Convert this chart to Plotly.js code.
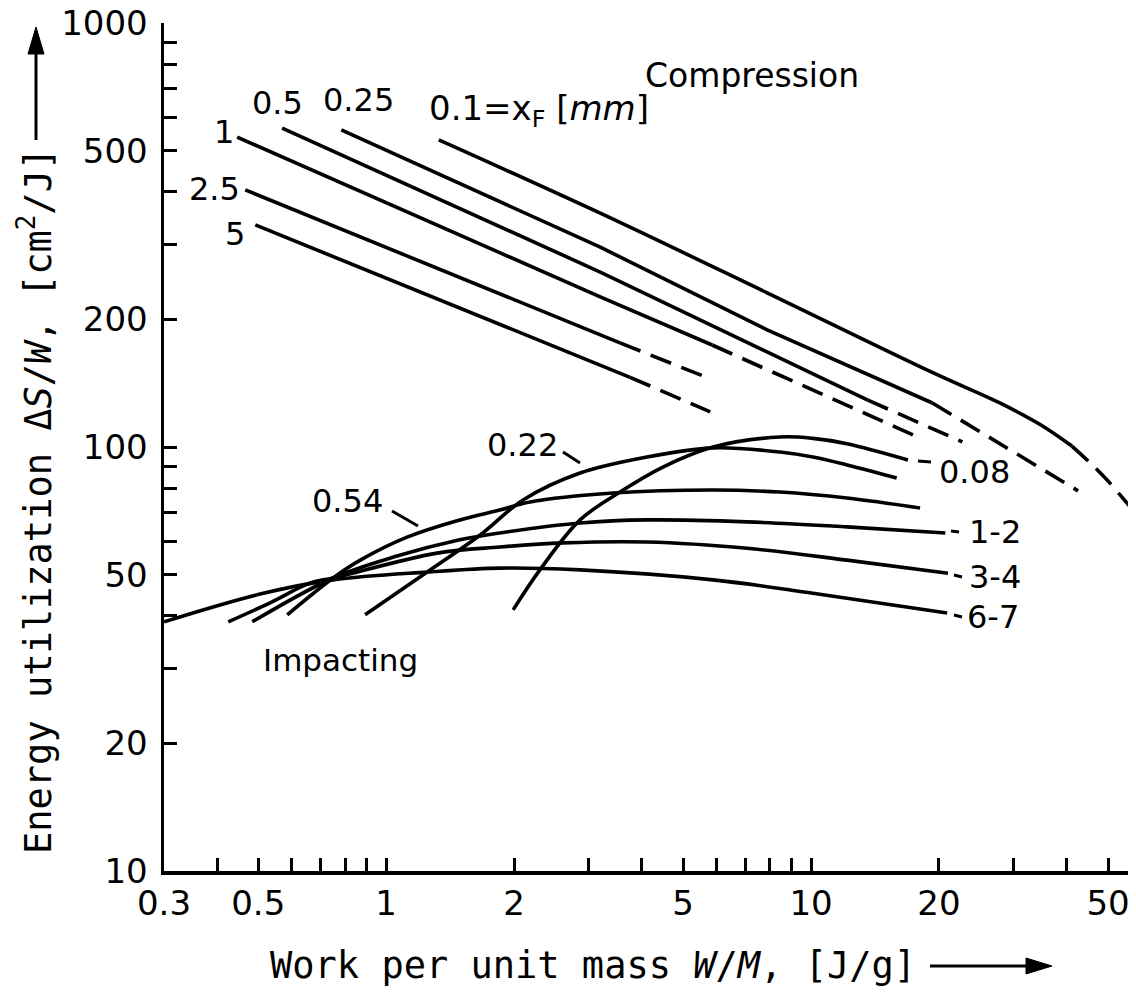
<!DOCTYPE html>
<html><head><meta charset="utf-8">
<script src="https://cdn.plot.ly/plotly-3.0.1.min.js"></script>
<style>html,body{margin:0;padding:0;background:#fff}</style>
</head><body>
<div id="chart" style="width:1136px;height:995px"></div>
<script>
// ---------- axis ticks ----------
const xTickVals = [0.3,0.4,0.5,0.6,0.7,0.8,0.9,1,2,3,4,5,6,7,8,9,10,20,30,40,50];
const xTickText = ['0.3','','0.5','','','','','1','2','','','5','','','','','10','20','','','50'];
const yTickVals = [10,20,30,40,50,60,70,80,90,100,200,300,400,500,600,700,800,900,1000];
const yTickText = ['10','20','','','50','','','','','100','200','','','500','','','','','1000'];

// ---------- Compression (feed size x_F in mm): solid part, dashed extrapolation ----------
const comp01_x  = [1.33, 3.19, 7.88, 19.4, 27.8, 34.6, 41.1];
const comp01_y  = [530, 356, 231, 149.5, 127, 113, 100.5];
const comp01d_x = [41.1, 45.5, 50.5, 57.2];
const comp01d_y = [100.5, 91.5, 82.2, 71];

const comp025_x  = [0.784, 3.19, 7.88, 19.3];
const comp025_y  = [560, 296, 189, 127];
const comp025d_x = [19.3, 28.9, 42.5];
const comp025d_y = [127, 99.5, 78.8];

const comp05_x  = [0.569, 3.19, 13.6];
const comp05_y  = [565, 258.6, 129];
const comp05d_x = [13.6, 22.7];
const comp05d_y = [129, 102.8];

const comp1_x  = [0.446, 3.19, 5.85];
const comp1_y  = [538, 226, 174];
const comp1d_x = [5.85, 17.8];
const comp1d_y = [174, 105.6];

const comp25_x  = [0.466, 3.55];
const comp25_y  = [404, 176];
const comp25d_x = [3.55, 5.72];
const comp25d_y = [176, 145.5];

const comp5_x  = [0.492, 3.75];
const comp5_y  = [334, 146];
const comp5d_x = [3.75, 5.79];
const comp5d_y = [146, 121];

// ---------- Impacting (feed size in mm) ----------
const imp67_x = [0.3, 0.505, 0.75, 1.25, 1.85, 2.86, 5.88, 10.1, 20.9];
const imp67_y = [38.7, 45.0, 48.6, 50.7, 51.8, 51.3, 48.6, 45.2, 40.6];

const imp34_x = [0.425, 0.533, 0.663, 0.75, 1.318, 1.85, 2.61, 4.11, 7.07, 12.15, 21.0];
const imp34_y = [38.7, 42.9, 47.8, 49.1, 56.2, 58.1, 59.4, 59.7, 57.7, 54.1, 50.4];

const imp12_x = [0.484, 0.75, 1.04, 1.49, 1.85, 2.86, 4.11, 7.07, 12.15, 20.7];
const imp12_y = [38.7, 49.1, 55.0, 60.4, 62.7, 66.2, 67.3, 66.6, 64.8, 62.7];

const imp054_x = [0.585, 0.75, 0.869, 1.12, 1.49, 1.85, 2.18, 3.42, 5.88, 8.45, 12.15, 18.05];
const imp054_y = [40.2, 49.1, 54.1, 61.3, 67.3, 71.0, 74.2, 77.9, 79.2, 78.3, 75.8, 71.8];

const imp022_x = [0.892, 1.249, 1.664, 2.10, 2.86, 4.11, 5.88, 8.45, 10.1, 12.15, 15.9];
const imp022_y = [40.2, 50.7, 62.0, 75.0, 86.8, 94.7, 99.5, 97.3, 94.7, 90.7, 84.5];

const imp008_x = [1.99, 2.30, 2.86, 3.55, 4.48, 5.88, 8.45, 10.1, 12.15, 16.9];
const imp008_y = [41.3, 51.3, 67.3, 78.3, 89.7, 100, 105.6, 104.8, 101.8, 93.2];

// ---------- build traces ----------
const LW = 3.6;
function solid(x, y, shape) {
  return {x: x, y: y, type: 'scatter', mode: 'lines', hoverinfo: 'skip',
          line: {color: '#000', width: LW, shape: shape || 'linear', smoothing: 1}};
}
function dashed(x, y) {
  return {x: x, y: y, type: 'scatter', mode: 'lines', hoverinfo: 'skip',
          line: {color: '#000', width: LW, dash: '22px,11px', shape: 'spline', smoothing: 0.8}};
}
const traces = [
  solid(comp01_x, comp01_y, 'spline'), dashed(comp01d_x, comp01d_y),
  solid(comp025_x, comp025_y), dashed(comp025d_x, comp025d_y),
  solid(comp05_x, comp05_y), dashed(comp05d_x, comp05d_y),
  solid(comp1_x, comp1_y), dashed(comp1d_x, comp1d_y),
  solid(comp25_x, comp25_y), dashed(comp25d_x, comp25d_y),
  solid(comp5_x, comp5_y), dashed(comp5d_x, comp5d_y),
  solid(imp67_x, imp67_y, 'spline'),
  solid(imp34_x, imp34_y, 'spline'),
  solid(imp12_x, imp12_y, 'spline'),
  solid(imp054_x, imp054_y, 'spline'),
  solid(imp022_x, imp022_y, 'spline'),
  solid(imp008_x, imp008_y, 'spline')
];

// ---------- layout helpers (pixel -> paper) ----------
const M = {l: 164, r: 8, t: 23, b: 124};
const W = 1136, H = 995;
const PW = W - M.l - M.r, PH = H - M.t - M.b;
function px(x) { return (x - M.l) / PW; }
function py(y) { return (H - M.b - y) / PH; }
const FONT = 'DejaVu Sans, sans-serif';
const MONO = 'DejaVu Sans Mono, monospace';

function label(text, x, y, xanchor, size) {
  return {text: text, xref: 'paper', yref: 'paper', x: px(x), y: py(y),
          xanchor: xanchor || 'center', yanchor: 'middle', showarrow: false,
          font: {family: FONT, size: size || 32, color: '#000'}};
}
function seg(x0, y0, x1, y1, w) {
  return {type: 'line', xref: 'paper', yref: 'paper',
          x0: px(x0), y0: py(y0), x1: px(x1), y1: py(y1),
          line: {color: '#000', width: w || 3}};
}
function tri(pts) {
  const d = pts.map((p, i) => (i ? 'L' : 'M') + px(p[0]) + ',' + py(p[1])).join(' ') + ' Z';
  return {type: 'path', xref: 'paper', yref: 'paper', path: d,
          fillcolor: '#000', line: {color: '#000', width: 1}};
}

const annotations = [
  label('Compression', 752, 75, 'center', 33),
  label('0.5', 277, 103),
  label('0.25', 358, 100),
  label('0.1=x<sub>F</sub> [<i>mm</i>]', 427, 110, 'left', 34),
  label('1', 224, 132),
  label('2.5', 214, 189),
  label('5', 235, 234),
  label('Impacting', 340, 660, 'center', 31),
  label('0.54', 347, 501),
  label('0.22', 522, 445),
  label('0.08', 937, 472, 'left'),
  label('1-2', 967, 532, 'left'),
  label('3-4', 967, 577, 'left'),
  label('6-7', 965, 617, 'left'),
  // axis titles
  {text: 'Work per unit mass <i>W</i>/<i>M</i>, [J/g]', xref: 'paper', yref: 'paper',
   x: px(268), y: py(965), xanchor: 'left', yanchor: 'middle', showarrow: false,
   font: {family: MONO, size: 37, color: '#000'}},
  {text: 'Energy utilization \u0394<i>S</i>/<i>W</i>, [cm<sup>2</sup>/J]', xref: 'paper', yref: 'paper',
   x: px(35), y: py(856), xanchor: 'center', yanchor: 'bottom', textangle: -90, showarrow: false,
   font: {family: MONO, size: 37, color: '#000'}}
];

const shapes = [
  // leader strokes next to curve labels
  seg(392, 511, 418, 526), seg(563, 452, 580, 463),
  seg(918, 461, 931, 462), seg(951, 531, 959, 532),
  seg(954, 575, 962, 577), seg(954, 615, 962, 617),
  // axis-title arrows
  seg(930, 966, 1030, 966, 3), tri([[1052, 966], [1026, 958], [1026, 974]]),
  seg(36, 140, 36, 50, 3), tri([[36, 27], [28, 54], [44, 54]])
];

const layout = {
  width: W, height: H, margin: M,
  paper_bgcolor: '#fff', plot_bgcolor: '#fff',
  showlegend: false,
  font: {family: FONT, color: '#000'},
  xaxis: {type: 'log', range: [Math.log10(0.3), Math.log10(55.7)],
          tickmode: 'array', tickvals: xTickVals, ticktext: xTickText,
          ticks: 'inside', ticklen: 13, tickwidth: 3, tickcolor: '#000',
          showline: true, linewidth: 3.5, linecolor: '#000', mirror: false,
          showgrid: false, zeroline: false, ticklabelstandoff: 0,
          tickfont: {family: FONT, size: 34, color: '#000'}},
  yaxis: {type: 'log', range: [1, 3],
          tickmode: 'array', tickvals: yTickVals, ticktext: yTickText,
          ticks: 'inside', ticklen: 13, tickwidth: 3, tickcolor: '#000',
          showline: true, linewidth: 3.5, linecolor: '#000', mirror: false,
          showgrid: false, zeroline: false, ticklabelstandoff: 6,
          tickfont: {family: FONT, size: 34, color: '#000'}},
  annotations: annotations,
  shapes: shapes
};

Plotly.newPlot('chart', traces, layout, {staticPlot: true, displayModeBar: false});
</script>
</body></html>
